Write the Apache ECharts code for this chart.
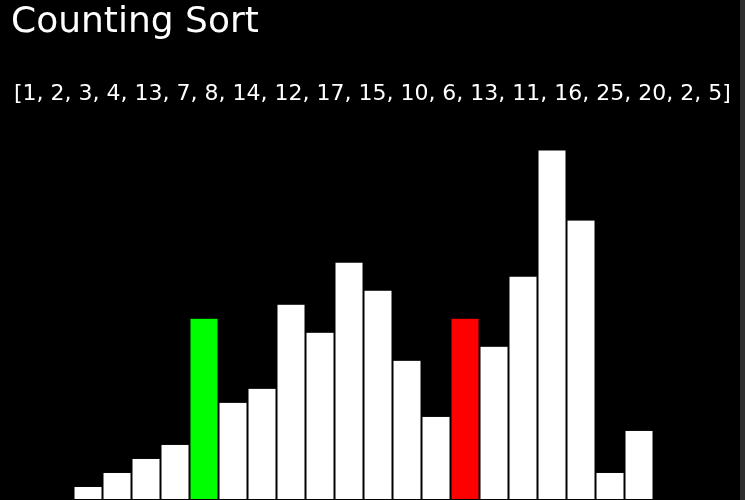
<!DOCTYPE html>
<html>
<head>
<meta charset="utf-8">
<script src="https://cdn.jsdelivr.net/npm/echarts@6/dist/echarts.min.js"></script>
<style>
html,body{margin:0;padding:0;background:#000;}
#chart{width:745px;height:500px;}
</style>
</head>
<body>
<div id="chart"></div>
<script>
var titleText = 'Counting Sort';
var values = [1, 2, 3, 4, 13, 7, 8, 14, 12, 17, 15, 10, 6, 13, 11, 16, 25, 20, 2, 5];
var categories = values.map(function (v, i) { return String(i); });
var greenIndices = [4];
var redIndices = [13];

var chart = echarts.init(document.getElementById('chart'), null, {renderer: 'canvas'});
var font = 'DejaVu Sans';

var barData = values.map(function (v, i) {
  var c = '#ffffff';
  if (greenIndices.indexOf(i) >= 0) c = '#00ff00';
  if (redIndices.indexOf(i) >= 0) c = '#ff0000';
  return {value: v, itemStyle: {color: c}};
});

chart.setOption({
  backgroundColor: '#000000',
  animation: false,
  title: [
    {text: titleText, left: 11, top: 5, padding: 0,
     textStyle: {color: '#ffffff', fontFamily: font, fontSize: 36, fontWeight: 'normal'}},
    {text: '[' + values.join(', ') + ']', left: 14, top: 83, padding: 0,
     textStyle: {color: '#ffffff', fontFamily: font, fontSize: 22, fontWeight: 'normal'}}
  ],
  grid: {left: 73.5, right: 91.5, top: 149.5, bottom: 0, containLabel: false},
  xAxis: {type: 'category', data: categories, show: false,
          axisLine: {show: false}, axisTick: {show: false}, axisLabel: {show: false}},
  yAxis: {type: 'value', min: 0, max: 25, show: false, splitLine: {show: false}},
  series: [{
    type: 'bar',
    data: barData,
    barCategoryGap: '0%',
    barGap: '0%',
    itemStyle: {borderColor: '#000000', borderWidth: 1}
  }],
  graphic: [{
    type: 'rect', shape: {x: 740, y: 0, width: 5, height: 500},
    style: {fill: '#2e2e2e'}, silent: true
  }]
});
</script>
</body>
</html>
